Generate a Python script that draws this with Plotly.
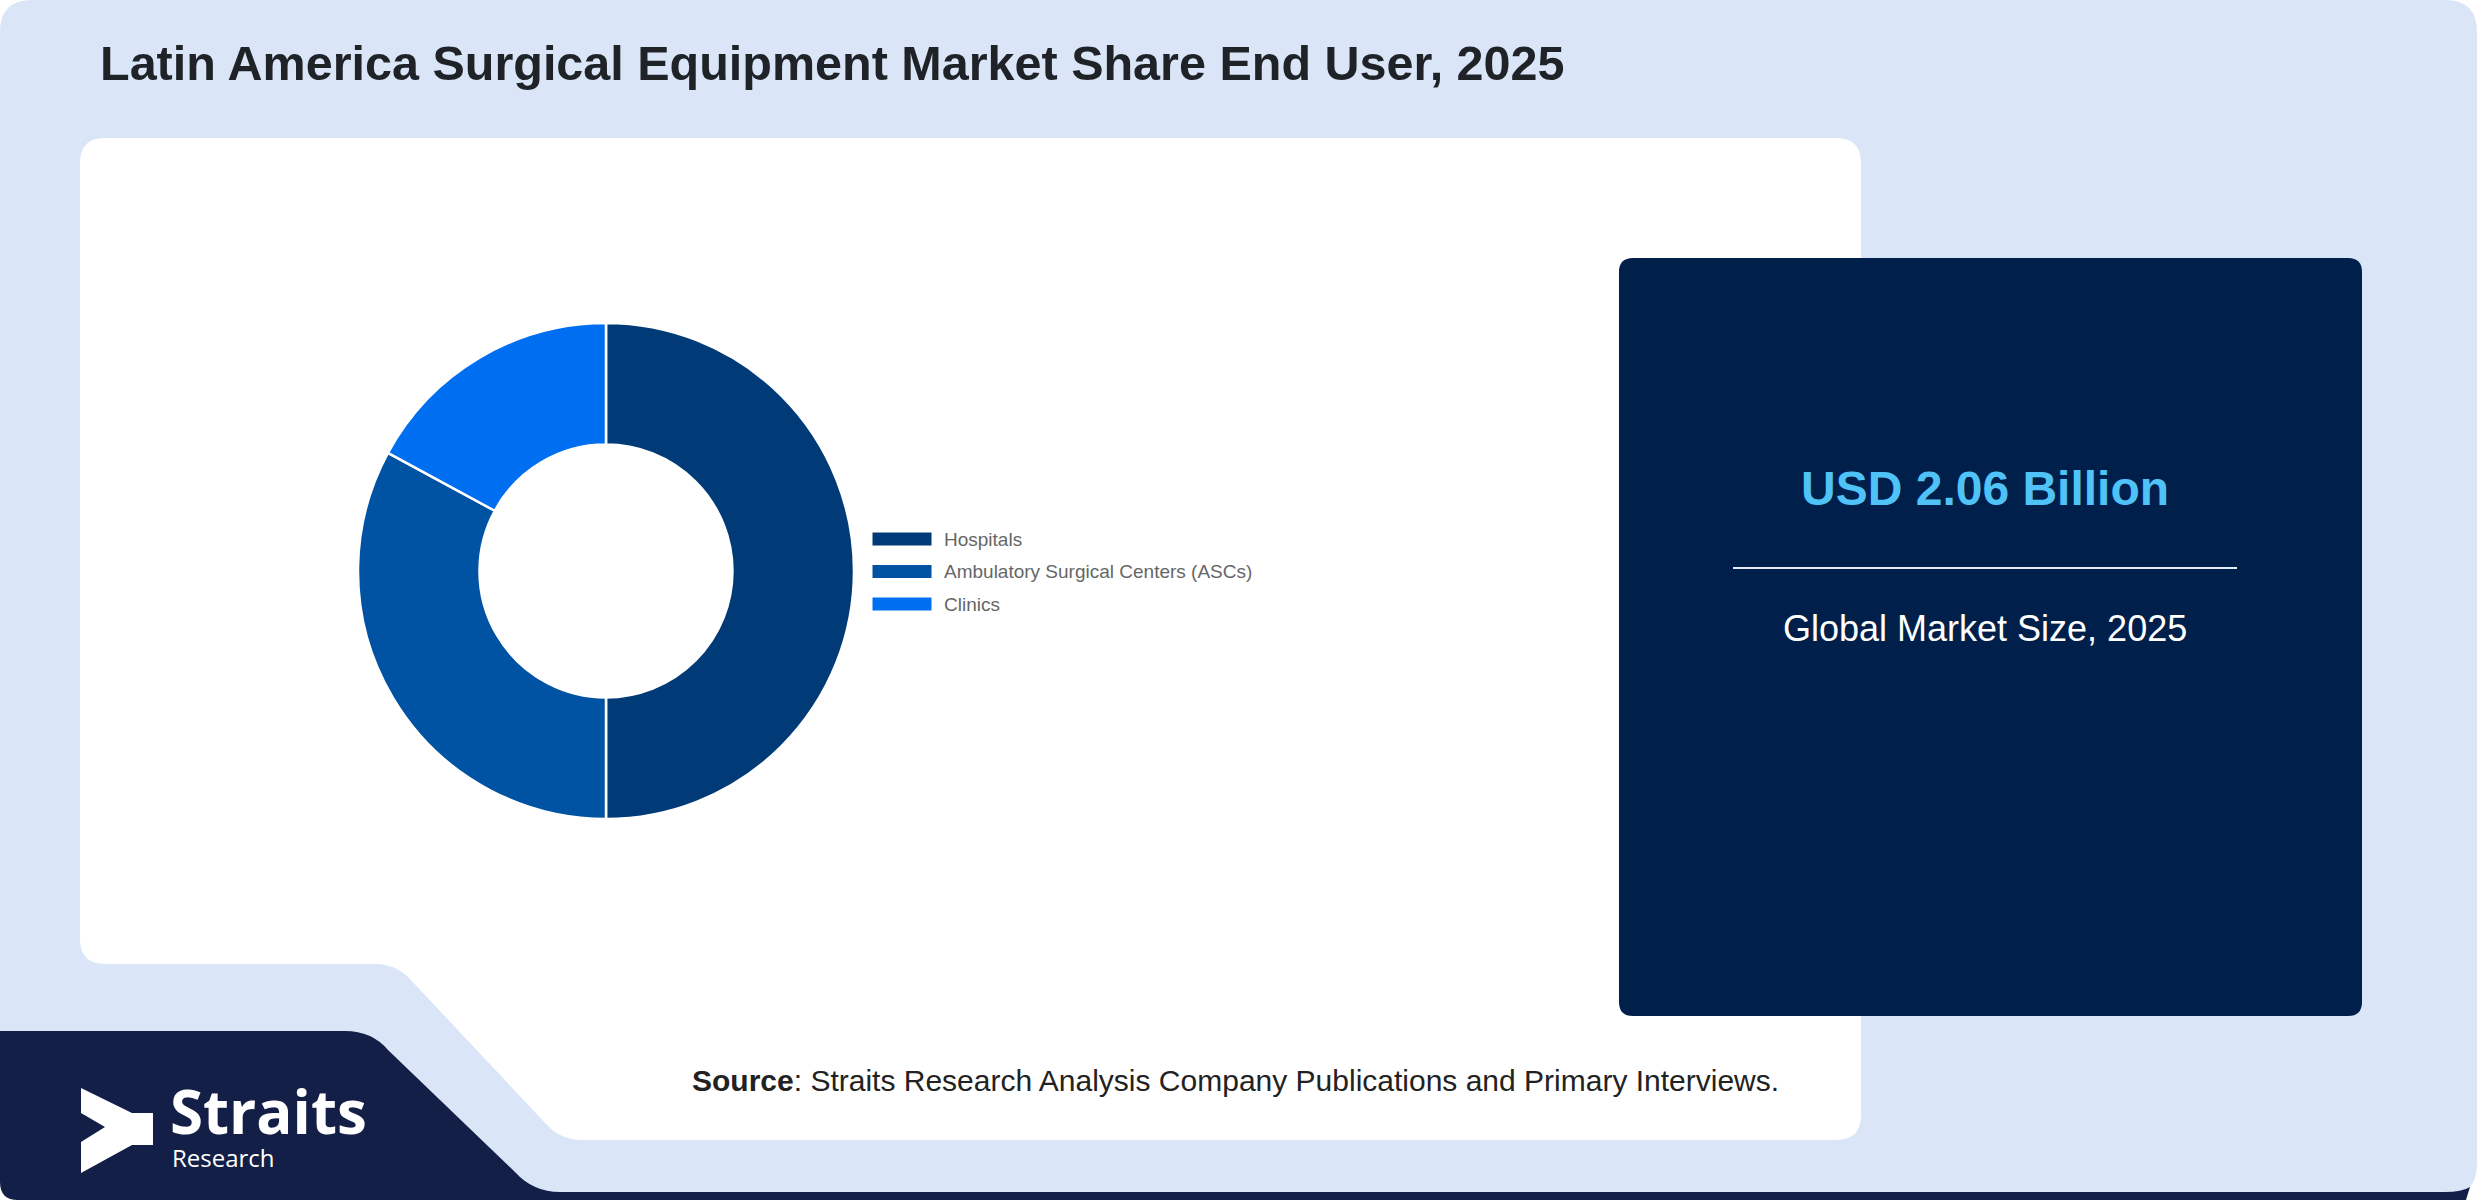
import re
import plotly.graph_objects as go

# ---- data ----
labels = ["Hospitals", "Ambulatory Surgical Centers (ASCs)", "Clinics"]
values = [50.0, 32.9, 17.1]
colors = ["#003b78", "#0052a3", "#006ef0"]
title_text = "Latin America Surgical Equipment Market Share End User, 2025"
market_value = "USD 2.06 Billion"
market_caption = "Global Market Size, 2025"
source_text = "<b>Source</b>: Straits Research Analysis Company Publications and Primary Interviews."

W, H = 2480, 1200
FONT = "Liberation Sans, Arial, sans-serif"


def px(x):
    return x / W


def py(y):
    return 1 - y / H


def to_paper(path):
    return re.sub(r"(-?[\d.]+),(-?[\d.]+)",
                  lambda m: f"{float(m[1]) / W:.5f},{1 - float(m[2]) / H:.5f}", path)


def rrect(x0, y0, x1, y1, r):
    return (f"M{x0+r},{y0} L{x1-r},{y0} Q{x1},{y0} {x1},{y0+r} L{x1},{y1-r} "
            f"Q{x1},{y1} {x1-r},{y1} L{x0+r},{y1} Q{x0},{y1} {x0},{y1-r} "
            f"L{x0},{y0+r} Q{x0},{y0} {x0+r},{y0} Z")


def pshape(path, fill, layer="below"):
    return dict(type="path", xref="paper", yref="paper", path=to_paper(path),
                fillcolor=fill, line=dict(width=0), layer=layer)


shapes = []
# light card background
shapes.append(pshape(rrect(0, 0, 2477, 1196, 32), "#dae6f8"))
# dark bottom strip (shadow)
shapes.append(pshape("M540,1192 L2445,1192 Q2462,1192 2470,1187 L2466,1200 L540,1200 Z", "#131f47"))
# dark logo shape
shapes.append(pshape("M0,1031 L345,1031 Q372,1031 388,1050 L515,1172 "
                     "Q533,1192 560,1192 L560,1200 L18,1200 Q0,1200 0,1182 Z", "#131f47"))
# white panel with notch
shapes.append(pshape("M105,138 L1836,138 Q1861,138 1861,163 L1861,1115 "
                     "Q1861,1140 1836,1140 L582,1140 Q562,1140 548,1126 "
                     "L409,978 Q395,964 375,964 L105,964 Q80,964 80,939 "
                     "L80,163 Q80,138 105,138 Z", "#ffffff"))
# navy box
shapes.append(pshape(rrect(1619, 258, 2362, 1016, 14), "#001f4a"))
# divider line
shapes.append(dict(type="line", xref="paper", yref="paper",
                   x0=px(1733), x1=px(2237), y0=py(568), y1=py(568),
                   line=dict(color="#e6ecf5", width=2), layer="below"))
# logo icon
shapes.append(pshape("M81,1088 L132,1113 L153,1113 L153,1145 L132,1145 "
                     "L81,1173 L81,1142 L105,1127 L81,1113 Z", "#ffffff"))


def ann(x, y, text, size, color, anchor="left", family=FONT):
    return dict(x=px(x), y=py(y), xref="paper", yref="paper", text=text,
                xanchor=anchor, yanchor="middle", showarrow=False,
                font=dict(family=family, size=size, color=color))


annotations = [
    ann(98, 63, f"<b>{title_text}</b>", 48.5, "#1f2328"),
    ann(1985, 488, f"<b>{market_value}</b>", 48, "#4fc3f7", "center"),
    ann(1985, 628, market_caption, 36, "#ffffff", "center"),
    ann(690, 1080, source_text, 30, "#222222"),
    ann(168, 1111, "<b>Straits</b>", 60, "#ffffff", family="Open Sans, sans-serif"),
    ann(170, 1157, "Research", 24, "#ffffff", family="Open Sans, sans-serif"),
]

# custom legend (chart.js style wide boxes)
leg_x0, leg_y0, leg_dy = 872, 539, 32.5
for i, (lab, col) in enumerate(zip(labels, colors)):
    yc = leg_y0 + i * leg_dy
    shapes.append(dict(type="rect", xref="paper", yref="paper",
                       x0=px(leg_x0), x1=px(leg_x0 + 60), y0=py(yc - 7), y1=py(yc + 7),
                       fillcolor=col, line=dict(color="#ffffff", width=1), layer="above"))
    annotations.append(ann(leg_x0 + 70, yc, lab, 19, "#666666"))

cx, cy, R = 606, 571, 248
fig = go.Figure()
fig.add_trace(go.Pie(
    labels=labels, values=values, hole=0.51, sort=False, direction="clockwise",
    rotation=0, textinfo="none", showlegend=False,
    marker=dict(colors=colors, line=dict(color="#ffffff", width=2.5)),
    domain=dict(x=[(cx - R) / W, (cx + R) / W], y=[1 - (cy + R) / H, 1 - (cy - R) / H]),
))

fig.update_layout(
    width=W, height=H, margin=dict(l=0, r=0, t=0, b=0),
    paper_bgcolor="#ffffff",
    shapes=shapes, annotations=annotations, showlegend=False,
)

fig.write_html("out.html", config={"displayModeBar": False},
               post_script="document.body.style.margin='0px';document.body.style.overflow='hidden';")
